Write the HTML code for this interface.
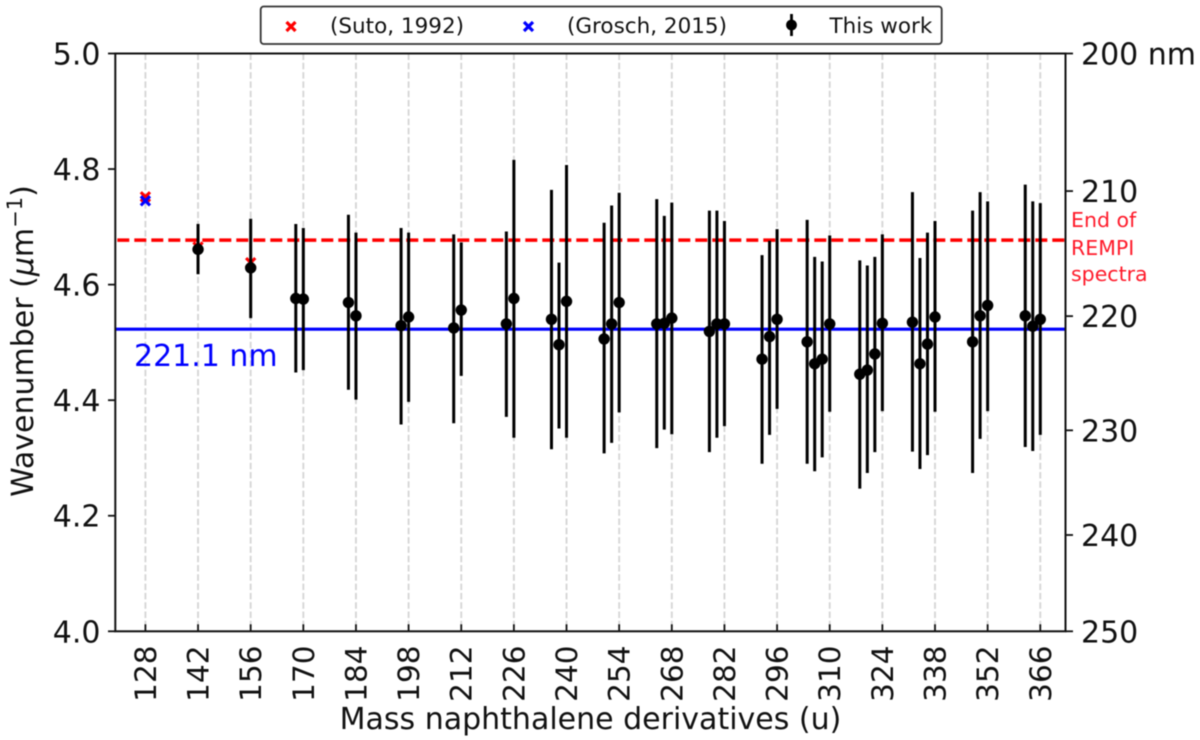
<!DOCTYPE html>
<html>
<head>
<meta charset="utf-8">
<title>Wavenumber vs mass of naphthalene derivatives</title>
<style>
html,body{margin:0;padding:0;background:#fff;}
svg{display:block;font-family:"DejaVu Sans","Liberation Sans",sans-serif;filter:blur(0.5px);}
text{fill:#111;}
</style>
</head>
<body>
<svg id="chart" width="1200" height="740" viewBox="0 0 1200 740" xmlns="http://www.w3.org/2000/svg">
  <g id="grid"></g>
  <g id="marks"></g>
  <g id="axes"></g>
  <text transform="translate(33,341) rotate(-90)" text-anchor="middle" font-size="30">Wavenumber (<tspan font-style="italic">μ</tspan>m<tspan dy="-11" font-size="21">−1</tspan><tspan dy="11">)</tspan></text>
  <text x="590.5" y="729" text-anchor="middle" font-size="30">Mass naphthalene derivatives (u)</text>
  <text x="134" y="366" font-size="30" style="fill:#0000ff">221.1 nm</text>
  <g font-size="20.5">
    <text x="1071" y="227" style="fill:#ff1a2a">End of</text>
    <text x="1071" y="255" style="fill:#ff1a2a">REMPI</text>
    <text x="1071" y="281" style="fill:#ff1a2a">spectra</text>
  </g>
  <g>
    <rect x="260.7" y="6.5" width="681" height="37.5" rx="3" fill="#fff" stroke="#333" stroke-width="1.8"/>
    <g>
      <path d="M286.5 22l9 9M295.5 22l-9 9" stroke="#ff0000" stroke-width="3.2" fill="none"/>
      <text x="330" y="33" font-size="21.5">(Suto, 1992)</text>
    </g>
    <g>
      <path d="M524 22l9 9M533 22l-9 9" stroke="#0000ff" stroke-width="3.2" fill="none"/>
      <text x="567" y="33" font-size="21.5">(Grosch, 2015)</text>
    </g>
    <g>
      <line x1="791.5" x2="791.5" y1="14" y2="36" stroke="#000" stroke-width="2.8"/>
      <circle cx="791.5" cy="25" r="5.4" fill="#000"/>
      <text x="829.5" y="33" font-size="21.5">This work</text>
    </g>
  </g>
</svg>
<script>
// Chart data
const massTicks = [128,142,156,170,184,198,212,226,240,254,268,282,296,310,324,338,352,366];
const wavenumberTicks = ["5.0","4.8","4.6","4.4","4.2","4.0"];
const wavelengthTicks = [200,210,220,230,240,250];
const masses = [142,156,168,170,182,184,196,198,210,212,224,226,236,238,240,250,252,254,264,266,268,278,280,282,292,294,296,304,306,308,310,318,320,322,324,332,334,336,338,348,350,352,362,364,366];
const wavenumbers = [4.661,4.629,4.576,4.575,4.569,4.546,4.529,4.544,4.525,4.556,4.532,4.576,4.540,4.496,4.571,4.506,4.532,4.569,4.532,4.533,4.542,4.519,4.532,4.532,4.471,4.510,4.540,4.501,4.463,4.471,4.532,4.445,4.452,4.480,4.533,4.535,4.463,4.497,4.544,4.501,4.546,4.564,4.546,4.528,4.540];
const upperBounds = [4.705,4.714,4.705,4.698,4.721,4.690,4.698,4.690,4.687,4.673,4.692,4.816,4.764,4.638,4.807,4.707,4.737,4.759,4.748,4.719,4.742,4.728,4.728,4.710,4.651,4.676,4.696,4.712,4.648,4.640,4.685,4.642,4.633,4.648,4.687,4.760,4.646,4.690,4.710,4.728,4.760,4.744,4.773,4.744,4.741];
const lowerBounds = [4.618,4.542,4.448,4.452,4.418,4.401,4.358,4.397,4.360,4.442,4.371,4.335,4.315,4.351,4.335,4.308,4.326,4.379,4.317,4.349,4.341,4.310,4.335,4.355,4.290,4.340,4.385,4.290,4.277,4.301,4.380,4.247,4.274,4.310,4.381,4.311,4.281,4.305,4.380,4.274,4.333,4.381,4.319,4.312,4.340];
const sutoMasses = [128,142,156];
const sutoValues = [4.752,4.665,4.638];
const groschMasses = [128];
const groschValues = [4.745];
const thresholdWavelength = 221.1;
const rempiEndWavenumber = 4.677;

// Axis functions
const plotLeft = 115.3, plotRight = 1065.5, plotTop = 53.5, plotBottom = 631.3;
function xScale(mass){ return 145.4 + (mass - 128) * 3.76; }
function yScale(value){ return plotTop + (5 - value) * (plotBottom - plotTop); }

const NS = 'http://www.w3.org/2000/svg';
function make(parent, tag, attrs, content){
  const el = document.createElementNS(NS, tag);
  for (const k in attrs) el.setAttribute(k, attrs[k]);
  if (content !== undefined) el.textContent = content;
  parent.appendChild(el);
  return el;
}
const grid = document.getElementById('grid');
const marks = document.getElementById('marks');
const axes = document.getElementById('axes');

// Grid lines and x axis ticks
massTicks.forEach(function(m){
  const gl = make(grid, 'line', {x1:xScale(m), x2:xScale(m), y1:plotTop, y2:plotBottom, stroke:'#d6d6d6', 'stroke-width':1.9, 'stroke-dasharray':'6.5 2.8'});
  
  
  const t = make(axes, 'line', {x1:xScale(m), x2:xScale(m), y1:plotBottom, y2:plotBottom - 7, stroke:'#111', 'stroke-width':1.8});
  
  
  const lab = make(axes, 'text', {transform:'translate(' + (xScale(m) + 10.5) + ',645.5) rotate(-90)', 'text-anchor':'end', 'font-size':29.5}, String(m));
  
  
});

// Reference lines
const blueLine = make(marks, 'line', {x1:plotLeft, x2:plotRight, y1:yScale(1000 / thresholdWavelength), y2:yScale(1000 / thresholdWavelength), stroke:'#0000ff', 'stroke-width':3.2});


const redLine = make(marks, 'line', {x1:plotLeft + 2, x2:plotRight, y1:yScale(rempiEndWavenumber), y2:yScale(rempiEndWavenumber), stroke:'#ff0000', 'stroke-width':3.4, 'stroke-dasharray':'12 5'});



// Literature points
function cross(cx, cy, color, name){
  const s = 4.6;
  const p = make(marks, 'path', {d:'M' + (cx - s) + ' ' + (cy - s) + 'l' + (2 * s) + ' ' + (2 * s) + 'M' + (cx + s) + ' ' + (cy - s) + 'l' + (-2 * s) + ' ' + (2 * s), stroke:color, 'stroke-width':3.1, fill:'none'});
  
  
}
sutoMasses.forEach(function(m, i){ cross(xScale(m), yScale(sutoValues[i]), '#ff0000', 'suto-point'); });
groschMasses.forEach(function(m, i){ cross(xScale(m), yScale(groschValues[i]), '#0000ff', 'grosch-point'); });

// This work: error bars and points
masses.forEach(function(m, i){
  const bar = make(marks, 'line', {x1:xScale(m), x2:xScale(m), y1:yScale(upperBounds[i]), y2:yScale(lowerBounds[i]), stroke:'#000', 'stroke-width':3});
  
  
  const dot = make(marks, 'circle', {cx:xScale(m), cy:yScale(wavenumbers[i]), r:5.7, fill:'#000'});
  
  
});

// Left axis
wavenumberTicks.forEach(function(label){
  const y = yScale(parseFloat(label));
  const t = make(axes, 'line', {x1:108, x2:plotLeft, y1:y, y2:y, stroke:'#111', 'stroke-width':1.8});
  
  
  const lab = make(axes, 'text', {x:100.5, y:y + 11, 'text-anchor':'end', 'font-size':30}, label);
  
  
});

// Right axis (wavelength)
wavelengthTicks.forEach(function(nm, i){
  const y = yScale(1000 / nm);
  const t = make(axes, 'line', {x1:plotRight, x2:1073, y1:y, y2:y, stroke:'#111', 'stroke-width':1.8});
  
  
  const lab = make(axes, 'text', {x:1081, y:y + 11, 'font-size':30}, i === 0 ? nm + ' nm' : String(nm));
  
  
});

// Frame
const frame = make(axes, 'rect', {x:plotLeft, y:plotTop, width:plotRight - plotLeft, height:plotBottom - plotTop, fill:'none', stroke:'#111', 'stroke-width':2});


</script>
</body>
</html>
